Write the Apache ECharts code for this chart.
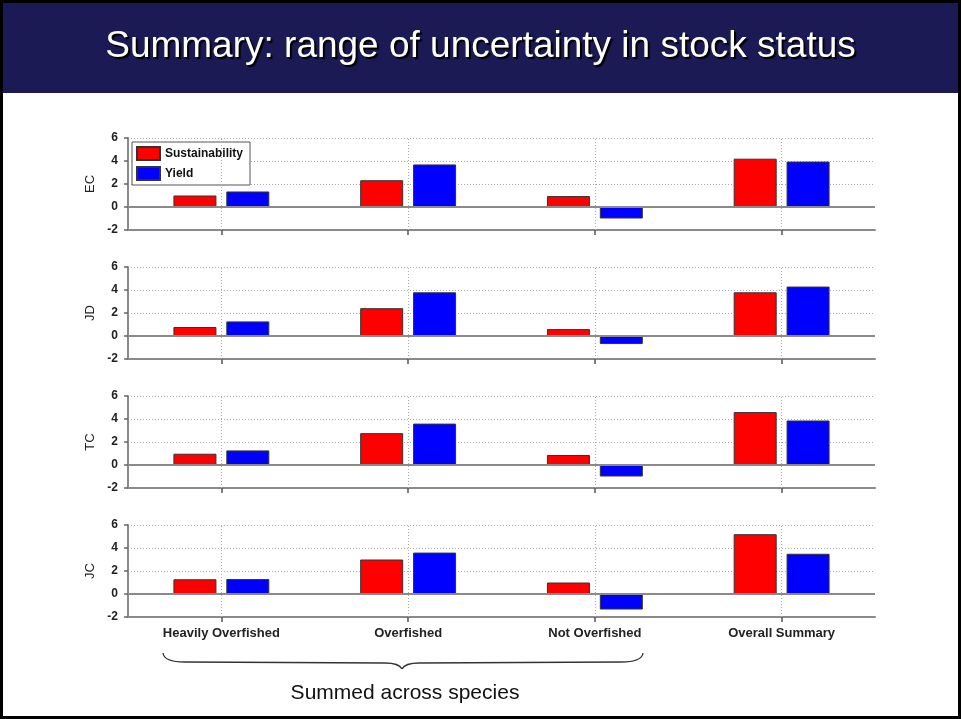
<!DOCTYPE html>
<html>
<head>
<meta charset="utf-8">
<title>Summary: range of uncertainty in stock status</title>
<script src="https://cdn.jsdelivr.net/npm/echarts@6/dist/echarts.min.js"></script>
<style>
    html, body { margin: 0; padding: 0; background: #000; }
    #main { width: 961px; height: 719px; }
</style>
</head>
<body>
<div id="main"></div>
<script>
    // categories and panels
    var categories = ['Heavily Overfished', 'Overfished', 'Not Overfished', 'Overall Summary'];
    var panels = ['EC', 'JD', 'TC', 'JC'];
    var yTicks = [-2, 0, 2, 4, 6];

    // values
    var ecSustainability = [1.0, 2.33, 0.95, 4.2];
    var ecYield = [1.35, 3.7, -1.0, 3.95];
    var jdSustainability = [0.78, 2.42, 0.6, 3.8];
    var jdYield = [1.27, 3.8, -0.7, 4.3];
    var tcSustainability = [0.98, 2.77, 0.87, 4.6];
    var tcYield = [1.27, 3.6, -1.0, 3.87];
    var jcSustainability = [1.28, 3.0, 1.0, 5.2];
    var jcYield = [1.3, 3.6, -1.35, 3.5];

    var sustData = [ecSustainability, jdSustainability, tcSustainability, jcSustainability];
    var yieldData = [ecYield, jdYield, tcYield, jcYield];

    var gridTops = [138, 267, 396, 525];
    var gridHeight = 92;
    var font = 'Arial, Liberation Sans, sans-serif';
    var dotted = { color: '#aaa', type: [1, 2], width: 1 };

    var grids = [], xAxes = [], yAxes = [], series = [];

    panels.forEach(function (name, i) {
        var last = i === panels.length - 1;
        grids.push({ left: 128, right: 86, top: gridTops[i], height: gridHeight });
        xAxes.push({
            type: 'category',
            gridIndex: i,
            data: categories,
            axisLine: { onZero: false, lineStyle: { color: '#8a8a8a', width: 2 } },
            axisTick: { show: true, alignWithLabel: true, length: 5, lineStyle: { color: '#555', width: 1.5 } },
            axisLabel: {
                show: last,
                margin: 10,
                color: '#222',
                fontSize: 13,
                fontWeight: 'bold',
                fontFamily: font
            },
            splitLine: { show: false }
        });
        yAxes.push({
            type: 'value',
            gridIndex: i,
            min: yTicks[0],
            max: yTicks[yTicks.length - 1],
            interval: 2,
            name: name,
            nameLocation: 'middle',
            nameRotate: 90,
            nameGap: 31,
            nameTextStyle: { color: '#222', fontSize: 13, fontFamily: font },
            axisLine: { show: true, lineStyle: { color: '#8a8a8a', width: 2 } },
            axisTick: { show: true, length: 4, lineStyle: { color: '#666', width: 1.5 } },
            axisLabel: {
                margin: 10,
                color: '#222',
                fontSize: 12,
                fontWeight: 'bold',
                fontFamily: font
            },
            splitLine: { show: true, lineStyle: dotted }
        });

        series.push({
            name: 'Sustainability',
            type: 'bar',
            xAxisIndex: i,
            yAxisIndex: i,
            data: sustData[i],
            barWidth: 43,
            barGap: '23%',
            itemStyle: { color: '#ff0000', borderColor: '#333', borderWidth: 1 }
        });
        series.push({
            name: 'Yield',
            type: 'bar',
            xAxisIndex: i,
            yAxisIndex: i,
            data: yieldData[i],
            barWidth: 43,
            barGap: '23%',
            itemStyle: { color: '#0000ff', borderColor: '#333', borderWidth: 1 }
        });

        // zero line and dotted category guides
        var guides = categories.map(function (c) {
            return { xAxis: c, lineStyle: dotted };
        });
        series.push({
            name: 'guides',
            type: 'line',
            xAxisIndex: i,
            yAxisIndex: i,
            data: [],
            showSymbol: false,
            markLine: {
                silent: true,
                symbol: 'none',
                label: { show: false },
                data: [{ yAxis: 0, lineStyle: { color: '#8a8a8a', type: 'solid', width: 2 } }].concat(guides)
            }
        });
    });

    // curly brace under the first three groups
    var braceStyle = { stroke: '#333', lineWidth: 1.3, fill: 'none' };

    var option = {
        backgroundColor: '#000',
        animation: false,
        title: {
            text: 'Summary: range of uncertainty in stock status',
            left: 'center',
            top: 23,
            textStyle: {
                color: '#fff',
                fontSize: 37,
                fontWeight: 'normal',
                fontFamily: font,
                textShadowColor: '#000',
                textShadowOffsetX: 2,
                textShadowOffsetY: 2,
                textShadowBlur: 1
            }
        },
        legend: {
            data: ['Sustainability', 'Yield'],
            orient: 'vertical',
            left: 132,
            top: 142,
            icon: 'rect',
            itemWidth: 23,
            itemHeight: 13,
            itemGap: 5,
            padding: [4, 7, 4, 4],
            backgroundColor: '#fff',
            borderColor: '#555',
            borderWidth: 1,
            borderRadius: 0,
            selectedMode: false,
            textStyle: {
                color: '#111',
                fontSize: 12,
                fontWeight: 'bold',
                fontFamily: font
            }
        },
        graphic: [
            { type: 'rect', z: -10, shape: { x: 3, y: 3, width: 955, height: 713 }, style: { fill: '#fff' } },
            { type: 'rect', z: -9, shape: { x: 3, y: 3, width: 955, height: 90 }, style: { fill: '#1b1a54' } },
            { type: 'bezierCurve', shape: { x1: 163, y1: 653, cpx1: 164, cpy1: 662, x2: 185, y2: 662 }, style: braceStyle },
            { type: 'line', shape: { x1: 185, y1: 662, x2: 385, y2: 663 }, style: braceStyle },
            { type: 'bezierCurve', shape: { x1: 385, y1: 663, cpx1: 399, cpy1: 663, x2: 402, y2: 669 }, style: braceStyle },
            { type: 'bezierCurve', shape: { x1: 402, y1: 669, cpx1: 405, cpy1: 663, x2: 419, y2: 663 }, style: braceStyle },
            { type: 'line', shape: { x1: 419, y1: 663, x2: 621, y2: 662 }, style: braceStyle },
            { type: 'bezierCurve', shape: { x1: 621, y1: 662, cpx1: 642, cpy1: 662, x2: 643, y2: 653 }, style: braceStyle },
            {
                type: 'text',
                x: 405,
                y: 693,
                style: {
                    text: 'Summed across species',
                    fill: '#111',
                    fontSize: 21,
                    fontFamily: font,
                    textAlign: 'center',
                    textVerticalAlign: 'middle'
                }
            }
        ],
        grid: grids,
        xAxis: xAxes,
        yAxis: yAxes,
        series: series
    };

    var chart = echarts.init(document.getElementById('main'));
    chart.setOption(option);

    window.addEventListener('resize', function () {
        chart.resize();
    });
</script>
</body>
</html>
